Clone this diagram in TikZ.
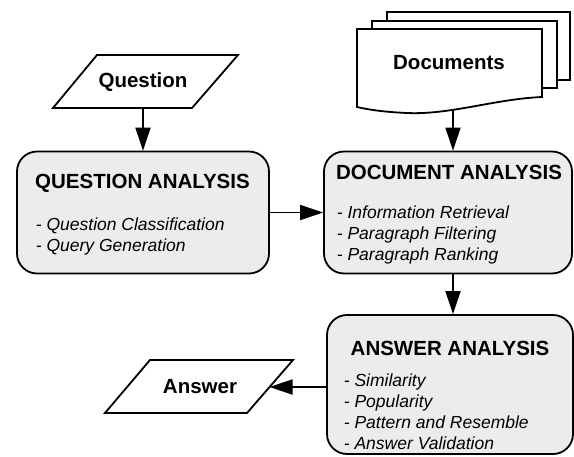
\documentclass[tikz,border=0pt]{standalone}
\usepackage{fontspec}
\setmainfont{Liberation Sans}
\usetikzlibrary{arrows.meta}
\begin{document}
\begin{tikzpicture}[x=1pt,y=-1pt,
  line width=1.8pt,
  arr/.style={-{Triangle[length=23pt,width=15pt]}},
  procbox/.style={draw=black, fill=gray!15, rounded corners=20pt, inner sep=0pt},
  titletext/.style={font=\bfseries\fontsize{20.5}{24}\selectfont, inner sep=0pt},
  itemtext/.style={font=\itshape\fontsize{17.5}{21.2}\selectfont, align=left, anchor=north west, inner sep=0pt},
  labeltext/.style={font=\bfseries\fontsize{20.5}{24}\selectfont, inner sep=0pt},
  shapeline/.style={draw=black, fill=white, line join=miter}
]
\useasboundingbox (0,0) rectangle (574,456);

% Question parallelogram
\draw[shapeline] (97,55) -- (238,55) -- (192,108) -- (53,108) -- cycle;
\node[labeltext] (qtext) at (143,82) {Question};
\coordinate (qb) at (143,108);

% Documents stack
\draw[shapeline] (387,12) rectangle (570,80);
\draw[shapeline] (372,21) rectangle (557,88);
\draw[shapeline] (357,107) -- (357,29) -- (542,29) -- (542,97)
  .. controls (495,99) and (450,115) .. (407,113)
  .. controls (385,112) and (370,110) .. (357,107) -- cycle;
\node[labeltext] (dtext) at (449,63) {Documents};
\coordinate (db) at (453,110);

% Question analysis box
\node[procbox, minimum width=252pt, minimum height=122pt] (qa) at (143,212.5) {};
\node[titletext] (qatitle) at (142.5,183) {QUESTION ANALYSIS};
\node[itemtext] (qaitems) at (35,217) {- Question Classification\\- Query Generation};

% Document analysis box
\node[procbox, minimum width=248pt, minimum height=122pt] (da) at (448,212.5) {};
\node[titletext] (datitle) at (449,172) {DOCUMENT ANALYSIS};
\node[itemtext] (daitems) at (336,205) {- Information Retrieval\\- Paragraph Filtering\\- Paragraph Ranking};

% Answer analysis box
\node[procbox, minimum width=246pt, minimum height=139pt] (aa) at (450,384.5) {};
\node[titletext] (aatitle) at (450,348) {ANSWER ANALYSIS};
\node[itemtext] (aaitems) at (343,372.5) {- Similarity\\- Popularity\\- Pattern and Resemble\\- Answer Validation};

% Answer parallelogram
\draw[shapeline] (150,360) -- (293,360) -- (247,413) -- (105,413) -- cycle;
\node[labeltext] (atext) at (200,387) {Answer};
\coordinate (ar) at (269.5,387);

% Connectors
\draw[arr] (qb) -- (qb |- qa.north);
\draw[arr] (db) -- (db |- da.north);
\draw[arr] (qa.east) -- (da.west);
\draw[arr] (da.south -| db) -- (aa.north -| db);
\draw[arr] (aa.west |- ar) -- (ar);
\end{tikzpicture}
\end{document}
